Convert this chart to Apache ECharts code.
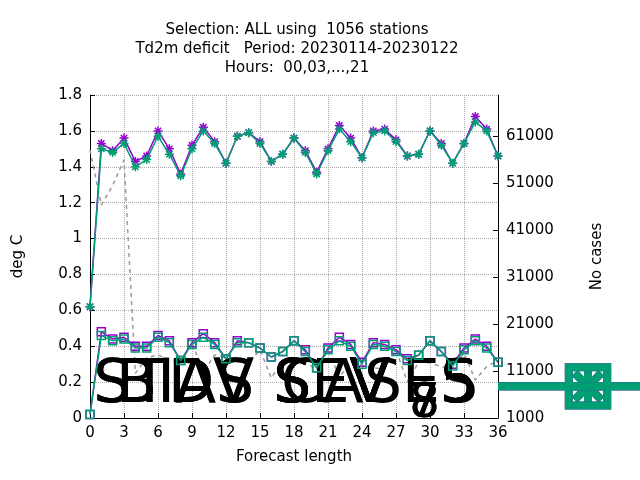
<!DOCTYPE html><html><head><meta charset="utf-8"><script src="https://cdn.jsdelivr.net/npm/echarts@6/dist/echarts.min.js"></script>
<style>body{margin:0}#c{width:640px;height:480px}</style></head><body><div id="c"></div><script>
const steps=[...Array(37).keys()];
const stdv8=[0.62,1.53,1.49,1.56,1.43,1.46,1.60,1.50,1.36,1.52,1.62,1.54,1.42,1.57,1.59,1.54,1.43,1.47,1.56,1.49,1.37,1.50,1.63,1.56,1.45,1.60,1.61,1.55,1.46,1.47,1.60,1.53,1.42,1.53,1.68,1.61,1.46];
const stdv7=[0.62,1.50,1.48,1.53,1.40,1.44,1.57,1.47,1.35,1.50,1.60,1.53,1.42,1.57,1.59,1.53,1.43,1.47,1.56,1.48,1.36,1.49,1.61,1.54,1.45,1.59,1.60,1.54,1.46,1.47,1.60,1.52,1.42,1.53,1.65,1.60,1.46];
const bias8=[0.02,0.48,0.44,0.45,0.40,0.40,0.46,0.43,0.32,0.42,0.47,0.42,0.33,0.43,0.42,0.39,0.34,0.37,0.43,0.38,0.28,0.39,0.45,0.41,0.31,0.42,0.41,0.38,0.33,0.35,0.43,0.37,0.30,0.39,0.44,0.40,0.31];
const bias7=[0.02,0.46,0.43,0.44,0.39,0.39,0.45,0.42,0.32,0.41,0.45,0.41,0.33,0.42,0.42,0.39,0.34,0.37,0.43,0.37,0.28,0.38,0.43,0.40,0.30,0.41,0.40,0.37,0.32,0.35,0.43,0.37,0.29,0.38,0.43,0.39,0.31];
const cases=[58000,46300,50500,55900,10500,13800,14400,13300,12700,17000,10800,14400,13800,12900,12700,15500,9500,13300,13800,12900,11200,15500,9700,12700,12300,11600,11600,15500,8700,12900,12700,11900,11600,14800,9100,11900,13300];
const P='#9400d3',G='#009e73';
const ast='path://M0,5L10,5M5,0L5,10M1.5,1.5L8.5,8.5M8.5,1.5L1.5,8.5';
const pair=a=>steps.map((x,i)=>[x,a[i]]);
function s(name,data,color,sym,z){return {name,type:'line',data:pair(data),yAxisIndex:0,z,
 symbol:sym,symbolSize:sym==='rect'?8:9,showAllSymbol:true,
 lineStyle:{color,width:1.5},itemStyle:{color:'rgba(0,0,0,0)',borderColor:color,borderWidth:1.5}};}
const F={fontFamily:'DejaVu Sans',fontSize:15,color:'#000'};
const chart=echarts.init(document.getElementById('c'));
chart.setOption({animation:false,backgroundColor:'#fff',
 title:{text:'Selection: ALL using  1056 stations\nTd2m deficit   Period: 20230114-20230122\nHours:  00,03,...,21',left:292,textAlign:'center',top:16,textStyle:{fontFamily:'DejaVu Sans',fontSize:15,fontWeight:'normal',lineHeight:19,color:'#000'}},
 grid:{left:90,right:142,top:95,bottom:62},
 legend:{orient:'vertical',right:160,top:97,align:'right',itemGap:1,itemWidth:45,itemHeight:12,
  textStyle:{...F,rich:{sub:{fontSize:12,verticalAlign:'bottom',padding:[9,0,0,0]}}},
  formatter:n=>{const m=n.match(/^(.*SEV)(\d)(.*)$/);return m?m[1]+' {sub|'+m[2]+'}'+m[3]:n;},
  data:['STDV SEV85','STDV SEV75','BIAS SEV85','BIAS SEV75',{name:'CASES',icon:'path://M0,0L1,0'}]},
 xAxis:{type:'value',min:0,max:36,interval:3,name:'Forecast length',nameLocation:'middle',nameGap:32,
  nameTextStyle:F,axisLine:{lineStyle:{color:'#000'}},axisTick:{inside:true},axisLabel:F,
  splitLine:{lineStyle:{color:'#aaa',type:'dotted'}}},
 yAxis:[{type:'value',min:0,max:1.8,interval:0.2,name:'deg C',nameLocation:'middle',nameGap:64,
  nameTextStyle:F,axisLine:{show:true,lineStyle:{color:'#000'}},axisTick:{inside:true},
  axisLabel:{...F,formatter:v=>String(+v.toFixed(1))},
  splitLine:{lineStyle:{color:'#aaa',type:'dotted'}}},
  {type:'value',min:1000,max:69700,interval:10000,position:'right',name:'No cases',nameLocation:'middle',nameGap:92,
  nameTextStyle:F,axisLine:{show:true,lineStyle:{color:'#000'}},axisTick:{inside:true},
  axisLabel:{...F,showMaxLabel:false,formatter:v=>String(v)},splitLine:{show:false}}],
 series:[s('STDV SEV85',stdv8,P,ast,3),s('STDV SEV75',stdv7,G,ast,4),s('BIAS SEV85',bias8,P,'rect',3),s('BIAS SEV75',bias7,G,'rect',4),
  {name:'CASES',type:'line',yAxisIndex:1,data:pair(cases),symbol:'none',lineStyle:{color:'#999',width:1.5,type:[4,4]},itemStyle:{color:'#999'},z:1}]
});
</script></body></html>
